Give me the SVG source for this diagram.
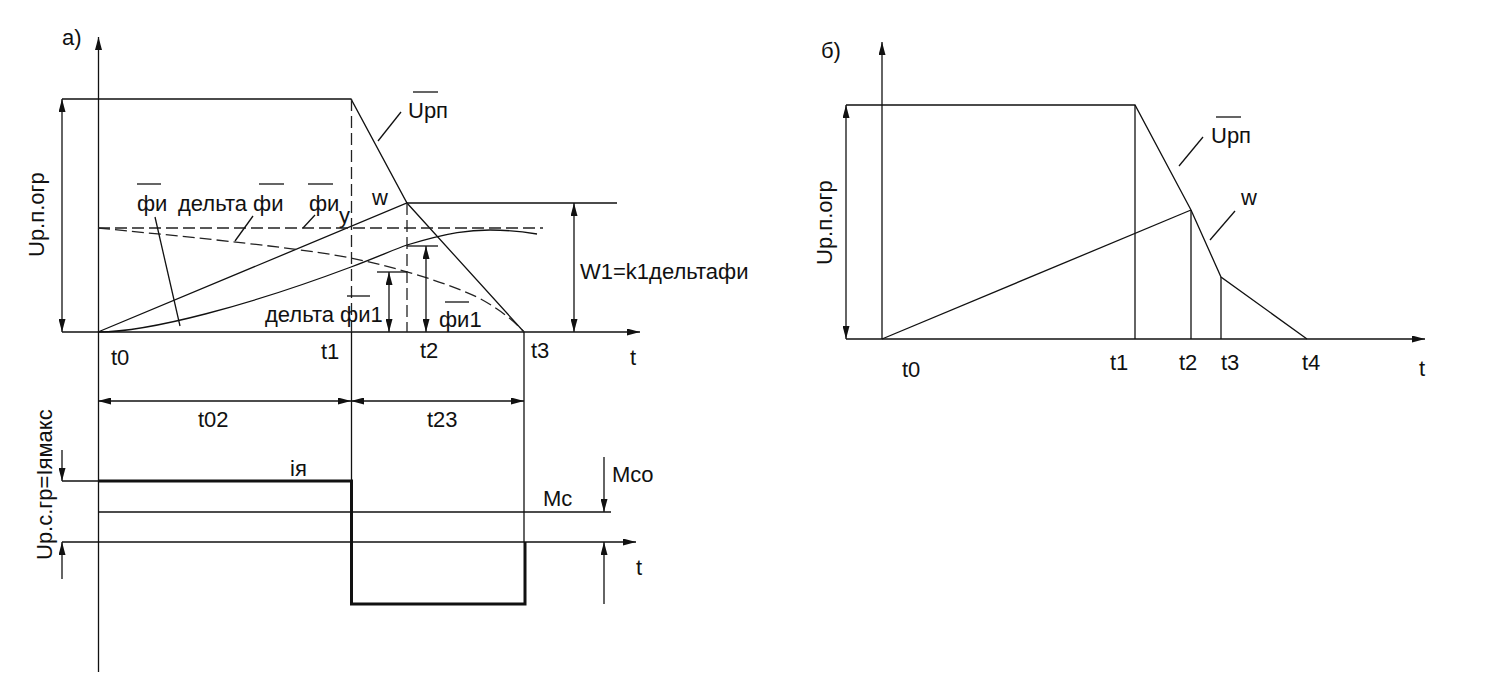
<svg xmlns="http://www.w3.org/2000/svg" width="1512" height="697" viewBox="0 0 1512 697">
<style>
.ln{fill:none;stroke:#111;stroke-width:1.3}
.th{fill:none;stroke:#111;stroke-width:3}
.ds{fill:none;stroke:#222;stroke-width:1.3;stroke-dasharray:12 5}
.tx{font-family:"Liberation Sans",Arial,sans-serif;font-size:22px;fill:#111}
.a2{marker-start:url(#ar);marker-end:url(#ar)}
.a1{marker-end:url(#ar)}
</style>
<defs>
<marker id="ar" markerUnits="userSpaceOnUse" markerWidth="13" markerHeight="7" refX="13" refY="3.5" orient="auto-start-reverse">
<path d="M0,0 L13,3.5 L0,7 z" fill="#111"/>
</marker>
</defs>
<rect width="1512" height="697" fill="#fff"/>

<g id="graph-a">
<text class="tx" x="62" y="45">а)</text>
<g id="a-axes">
<line class="ln a1" x1="98.5" y1="672" x2="98.5" y2="37"/>
<line class="ln a1" x1="62" y1="332" x2="640" y2="332"/>
<line class="ln a2" x1="62" y1="99" x2="62" y2="332"/>
<text class="tx" transform="translate(44,257) rotate(-90)">Uр.п.огр</text>
</g>
<g id="a-curves">
<path class="ln" d="M62,99 H351 L407,203 L524,332"/>
<path class="ln" d="M98,332 L407,203 H617"/>
<line class="ds" x1="351.5" y1="99" x2="351.5" y2="332"/>
<line class="ds" x1="407" y1="203" x2="407" y2="332"/>
<line class="ds" x1="98" y1="228" x2="543" y2="228"/>
<path class="ds" d="M98,228 C200,238 300,248 351,258 C390,266 440,280 477,297 C500,309 515,322 524,332"/>
<path class="ln" d="M98,332 C150,332 250,305 351,267 C380,256 395,249 407,245 C450,232 470,230 490,230 C510,230 525,232 537,234"/>
</g>
<g id="a-dims">
<line class="ln" x1="377" y1="272" x2="407" y2="272"/>
<line class="ln a2" x1="389" y1="272" x2="389" y2="332"/>
<line class="ln" x1="407" y1="246" x2="438" y2="246"/>
<line class="ln a2" x1="426" y1="246" x2="426" y2="332"/>
<line class="ln a2" x1="574" y1="203" x2="574" y2="332"/>
</g>
<g id="a-leaders">
<line class="ln" x1="155" y1="217" x2="180" y2="326"/>
<line class="ln" x1="253" y1="216" x2="235" y2="241"/>
<line class="ln" x1="315" y1="215" x2="303" y2="228"/>
<line class="ln" x1="378" y1="141" x2="401" y2="112"/>
</g>
<g id="a-labels">
<text class="tx" x="137" y="211">фи</text>
<line class="ln" x1="137" y1="184" x2="161" y2="184"/>
<text class="tx" x="178" y="211">дельта фи</text>
<line class="ln" x1="259" y1="184" x2="284" y2="184"/>
<text class="tx" x="309" y="211">фи</text>
<line class="ln" x1="308" y1="184" x2="333" y2="184"/>
<text class="tx" x="339" y="223">у</text>
<text class="tx" x="372" y="205">w</text>
<text class="tx" x="408" y="118">Uрп</text>
<line class="ln" x1="413" y1="92" x2="438" y2="92"/>
<text class="tx" x="265" y="322">дельта фи1</text>
<line class="ln" x1="347" y1="296" x2="370" y2="296"/>
<text class="tx" x="439" y="327">фи1</text>
<line class="ln" x1="445" y1="302" x2="469" y2="302"/>
<text class="tx" x="580" y="279">W1=k1дельтафи</text>
<text class="tx" x="111" y="365">t0</text>
<text class="tx" x="321" y="359">t1</text>
<text class="tx" x="420" y="358">t2</text>
<text class="tx" x="531" y="358">t3</text>
<text class="tx" x="630" y="365">t</text>
</g>
</g>

<g id="graph-current">
<line class="ln" x1="351.5" y1="332" x2="351.5" y2="481"/>
<line class="ln" x1="524" y1="332" x2="524" y2="542"/>
<line class="ln a2" x1="98" y1="401" x2="351" y2="401"/>
<line class="ln a2" x1="351" y1="401" x2="524" y2="401"/>
<text class="tx" x="198" y="427">t02</text>
<text class="tx" x="427" y="427">t23</text>
<line class="ln" x1="62" y1="481" x2="98" y2="481"/>
<path class="th" d="M98,481 H351.5 V604 H525 V542"/>
<line class="ln" x1="98" y1="512" x2="611" y2="512"/>
<line class="ln a1" x1="62" y1="542" x2="636" y2="542"/>
<line class="ln a1" x1="62" y1="450" x2="62" y2="481"/>
<line class="ln a1" x1="62" y1="579" x2="62" y2="542"/>
<line class="ln a1" x1="604" y1="457" x2="604" y2="512"/>
<line class="ln a1" x1="604" y1="604" x2="604" y2="542"/>
<text class="tx" transform="translate(52,560) rotate(-90)">Uр.с.гр=Iямакс</text>
<text class="tx" x="290" y="476">ія</text>
<text class="tx" x="543" y="506">Mc</text>
<text class="tx" x="612" y="482">Mco</text>
<text class="tx" x="636" y="575">t</text>
</g>

<g id="graph-b">
<text class="tx" x="821" y="58">б)</text>
<line class="ln a1" x1="882" y1="339" x2="882" y2="42"/>
<line class="ln a1" x1="846" y1="339" x2="1425" y2="339"/>
<line class="ln a2" x1="846" y1="105" x2="846" y2="339"/>
<text class="tx" transform="translate(832,265) rotate(-90)">Uр.п.огр</text>
<path class="ln" d="M846,105 H1135 L1191,210 L1221,277 L1307,339"/>
<line class="ln" x1="1135" y1="105" x2="1135" y2="339"/>
<line class="ln" x1="882" y1="339" x2="1191" y2="210"/>
<line class="ln" x1="1191" y1="210" x2="1191" y2="339"/>
<line class="ln" x1="1221" y1="277" x2="1221" y2="339"/>
<line class="ln" x1="1179" y1="166" x2="1203" y2="137"/>
<line class="ln" x1="1210" y1="240" x2="1235" y2="211"/>
<text class="tx" x="1211" y="143">Uрп</text>
<line class="ln" x1="1216" y1="117" x2="1241" y2="117"/>
<text class="tx" x="1241" y="205">w</text>
<text class="tx" x="902" y="377">t0</text>
<text class="tx" x="1110" y="370">t1</text>
<text class="tx" x="1179" y="370">t2</text>
<text class="tx" x="1221" y="370">t3</text>
<text class="tx" x="1302" y="370">t4</text>
<text class="tx" x="1419" y="376">t</text>
</g>
</svg>
